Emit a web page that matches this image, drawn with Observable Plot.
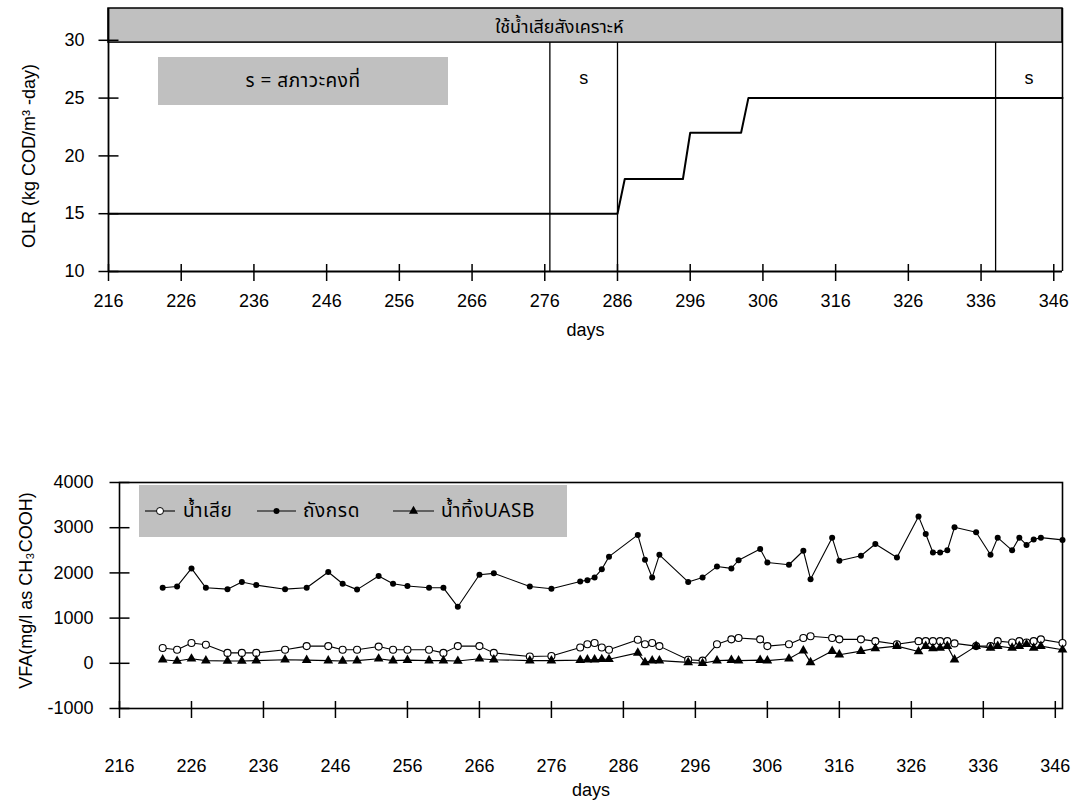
<!DOCTYPE html>
<html><head><meta charset="utf-8">
<script src="https://cdn.jsdelivr.net/npm/d3@7"></script>
<script src="https://cdn.jsdelivr.net/npm/@observablehq/plot@0.6"></script>
<style>
body{margin:0;background:#fff;font-family:"Liberation Sans",Arial,sans-serif;}
#wrap{position:relative;width:1079px;height:804px;overflow:hidden;}
#top,#bottom{position:absolute;left:0;}
#top{top:0}
#bottom{top:345px}
.box{position:absolute;background:#c0c0c0;color:#000;}
#note{left:158px;top:57px;width:290px;height:48px;display:flex;align-items:center;justify-content:center;font-size:19px;letter-spacing:0.5px;}
#legend{left:139px;top:485px;width:428px;height:52px;font-size:19px;}
#legend span{position:absolute;top:50%;transform:translateY(-50%);white-space:nowrap;letter-spacing:0.6px;}
.thai{font-family:"Noto Sans Thai","Noto Sans Thai UI",Loma,Garuda,"TH Sarabun New",Norasi,"Tlwg Typo","Liberation Sans","DejaVu Sans",sans-serif;}
</style></head>
<body><div id="wrap"><div id="top"></div><div id="bottom"></div>
<div class="box thai" id="note"></div>
<div class="box thai" id="legend"></div>
</div>
<script>
const FONT = '"Liberation Sans", Arial, sans-serif';
const THAI = '"Noto Sans Thai","Noto Sans Thai UI",Loma,Garuda,"TH Sarabun New",Norasi,"Tlwg Typo","Liberation Sans","DejaVu Sans",sans-serif';

// ---- tick labels ----
const dayTicks = [216,226,236,246,256,266,276,286,296,306,316,326,336,346];
const olrTicks = [10,15,20,25,30];
const vfaTicks = [-1000,0,1000,2000,3000,4000];

// ---- top chart: OLR ----
const olrDays   = [216,286,287,295,296,303,304,347.2];
const olrValues = [15,15,18,18,22,22,25,25];
const steadyBounds  = [276.7,286,338];
const steadyPeriods = [[276.7,286],[338,347.2]];
const phaseLabel = "ใช้น้ำเสียสังเคราะห์";
const noteLabel  = "s = สภาวะคงที่";
const olrTitle   = "OLR (kg COD/m³ -day)";

// ---- bottom chart: VFA ----
const days = [222,224,226,228,231,233,235,239,242,245,247,249,252,254,256,259,261,263,266,268,273,
  276,280,281,282,283,284,288,289,290,291,295,297,299,301,302,305,306,309,311,312,315,316,319,321,324,327,328,329,330,331,332,335,337,338,340,341,342,343,344,347];
const acidTank = [1670,1700,2100,1670,1640,1800,1730,1640,1670,2020,1760,1630,1930,1760,1710,1670,1670,1250,1960,1990,1700,
  1650,1810,1840,1900,2080,2360,2840,2290,1900,2400,1800,1900,2140,2100,2280,2530,2230,2180,2490,1860,2780,2270,2380,2640,2340,3250,2860,2450,2450,2500,3010,2900,2400,2780,2500,2780,2620,2740,2780,2730];
const wastewater = [340,300,450,410,230,230,230,300,380,380,300,300,370,300,300,300,230,380,380,230,150,
  160,350,420,450,350,300,520,420,450,380,80,60,420,530,560,530,380,420,560,600,560,530,530,490,420,490,490,490,490,490,440,380,380,490,460,490,460,490,530,450];
const uasbEffluent = [80,50,100,60,50,50,60,80,70,60,50,60,100,60,70,60,60,50,100,80,60,
  60,70,80,80,90,90,230,20,60,60,20,0,60,70,60,70,60,100,280,20,270,190,270,330,380,260,380,330,340,380,80,380,340,380,340,380,420,340,380,300];
const seriesNames = ["น้ำเสีย","ถังกรด","น้ำทิ้งUASB"];
const vfaTitle = "VFA(mg/l as CH₃COOH)";
const xTitle = "days";

const olr = olrDays.map((d,i)=>({day:d, olr:olrValues[i]}));
const seriesValues = [wastewater, acidTank, uasbEffluent];
const vfa = seriesNames.flatMap((s,k)=>days.map((d,i)=>({day:d, value:seriesValues[k][i], series:s})));

// tick symbols that cross the axis line
const hTick = {draw(ctx, size){const r=Math.sqrt(size/Math.PI); ctx.moveTo(-r,0); ctx.lineTo(r,0);}};
const vTick = {draw(ctx, size){const r=Math.sqrt(size/Math.PI); ctx.moveTo(0,-r); ctx.lineTo(0,r);}};
const fmt = d => String(d);

const style = {fontFamily:FONT, fontSize:"18px", color:"#000", background:"transparent", overflow:"visible"};

const topPlot = Plot.plot({
  width:1079, height:345, marginLeft:108, marginRight:17, marginTop:8, marginBottom:74,
  x:{domain:[216,347.2]}, y:{domain:[10,32.75]},
  style,
  marks:[
    Plot.rect([phaseLabel], {x1:216, x2:347.2, y1:29.8, y2:32.75, fill:"#c0c0c0", stroke:"#000", strokeWidth:1.5}),
    Plot.text([phaseLabel], {x:278, frameAnchor:"top", lineAnchor:"middle", dy:19, fontFamily:THAI, fontSize:18}),
    Plot.ruleX(steadyBounds, {y1:10, y2:29.8, strokeWidth:1.3}),
    Plot.text(steadyPeriods, {x:d=>(d[0]+d[1])/2, frameAnchor:"top", lineAnchor:"middle", dy:70, text:()=>"s"}),
    Plot.line(olr, {x:"day", y:"olr", strokeWidth:2}),
    Plot.ruleX([347.2], {y1:10, y2:32.75, strokeWidth:1.5}),
    Plot.ruleX([216], {strokeWidth:1.8}),
    Plot.ruleY([10], {strokeWidth:1.8}),
    Plot.dot(olrTicks, {x:216, y:d=>d, symbol:hTick, r:10, fill:"none", stroke:"#000", strokeWidth:1.5}),
    Plot.dot(dayTicks, {x:d=>d, y:10, symbol:vTick, r:8.5, dy:1, fill:"none", stroke:"#000", strokeWidth:1.5}),
    Plot.axisY({ticks:olrTicks, tickSize:0, tickPadding:24, tickFormat:fmt, label:null}),
    Plot.axisX({ticks:dayTicks, tickSize:0, tickPadding:23, tickFormat:fmt, label:null}),
    Plot.text([xTitle], {frameAnchor:"bottom", lineAnchor:"middle", dy:59}),
    Plot.text([olrTitle], {frameAnchor:"left", textAnchor:"middle", lineAnchor:"middle", dx:-79, dy:16, rotate:-90})
  ]
});
document.getElementById("top").appendChild(topPlot);

const bottomPlot = Plot.plot({
  width:1079, height:459, marginLeft:119, marginRight:17, marginTop:137, marginBottom:96,
  x:{domain:[216,347]}, y:{domain:[-1000,4000]},
  style,
  marks:[
    Plot.frame({strokeWidth:1.6}),
    Plot.dot(vfaTicks, {x:216, y:d=>d, symbol:hTick, r:10, fill:"none", stroke:"#000", strokeWidth:1.5}),
    Plot.dot(dayTicks, {x:d=>d, y:-1000, symbol:vTick, r:8.5, dy:1, fill:"none", stroke:"#000", strokeWidth:1.5}),
    Plot.axisY({ticks:vfaTicks, tickSize:0, tickPadding:26, tickFormat:fmt, label:null}),
    Plot.axisX({ticks:dayTicks, tickSize:0, tickPadding:51, tickFormat:fmt, label:null}),
    Plot.line(vfa, {x:"day", y:"value", z:"series", stroke:"#000", strokeWidth:1.1}),
    Plot.dot(vfa.filter(d=>d.series===seriesNames[1]), {x:"day", y:"value", r:3, fill:"#000"}),
    Plot.dot(vfa.filter(d=>d.series===seriesNames[0]), {x:"day", y:"value", r:3.5, fill:"#fff", stroke:"#000", strokeWidth:1.1}),
    Plot.dot(vfa.filter(d=>d.series===seriesNames[2]), {x:"day", y:"value", r:3.6, symbol:"triangle", fill:"#000"}),
    Plot.text([xTitle], {frameAnchor:"bottom", lineAnchor:"middle", dy:82}),
    Plot.text([vfaTitle], {frameAnchor:"left", textAnchor:"middle", lineAnchor:"middle", dx:-93, dy:-5, rotate:-90})
  ]
});
document.getElementById("bottom").appendChild(bottomPlot);

// annotation boxes
document.getElementById("note").textContent = noteLabel;
const legend = document.getElementById("legend");
const sw = d3.select(legend).append("svg").attr("width",428).attr("height",52).style("position","absolute").style("left",0).style("top",0);
const items = [
  {x0:6, x1:36, lx:44, sym:"open"},
  {x0:118, x1:157, lx:164, sym:"dot"},
  {x0:254, x1:295, lx:302, sym:"tri"}
];
items.forEach((it,k)=>{
  const cx=(it.x0+it.x1)/2, cy=26;
  sw.append("line").attr("x1",it.x0).attr("x2",it.x1).attr("y1",cy).attr("y2",cy).attr("stroke","#000").attr("stroke-width",1.1);
  if(it.sym==="open") sw.append("circle").attr("cx",cx).attr("cy",cy).attr("r",3.5).attr("fill","#fff").attr("stroke","#000");
  if(it.sym==="dot") sw.append("circle").attr("cx",cx).attr("cy",cy).attr("r",3).attr("fill","#000");
  if(it.sym==="tri") sw.append("path").attr("d",d3.symbol(d3.symbolTriangle, 36)()).attr("transform",`translate(${cx},${cy})`).attr("fill","#000");
  const s=document.createElement("span"); s.textContent=seriesNames[k]; s.style.left=it.lx+"px"; legend.appendChild(s);
});
</script>
</body></html>
